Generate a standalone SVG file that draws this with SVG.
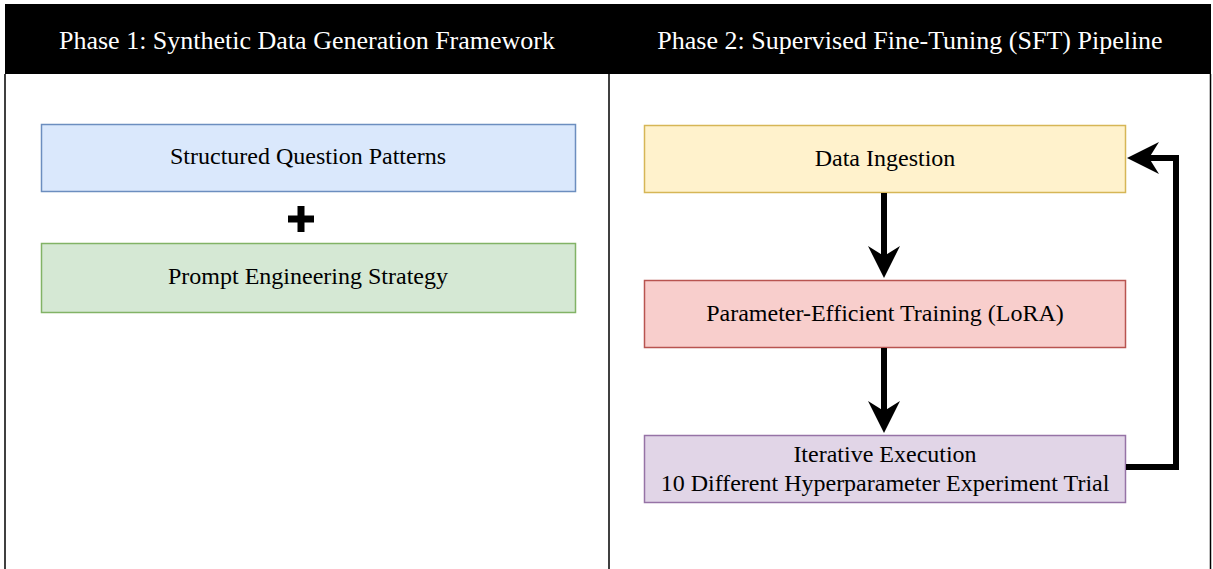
<svg xmlns="http://www.w3.org/2000/svg" width="1213" height="569" viewBox="0 0 1213 569">
<style>
.hdr{font-family:"Liberation Serif","Times New Roman",serif;font-size:26px;fill:#ffffff;text-anchor:middle}
.lbl{font-family:"Liberation Serif","Times New Roman",serif;font-size:24px;fill:#000000;text-anchor:middle}
.box{stroke-width:1.5}
.conn{fill:none;stroke:#000000;stroke-width:6}
.head{fill:#000000}
</style>
<rect x="0" y="0" width="1213" height="569" fill="#ffffff"/>
<g id="frame">
<rect x="5" y="4" width="1206" height="70" fill="#000000"/>
<line x1="5" y1="74" x2="5" y2="569" stroke="#000000" stroke-width="1.5"/>
<line x1="609" y1="74" x2="609" y2="569" stroke="#000000" stroke-width="1.5"/>
<line x1="1210.5" y1="74" x2="1210.5" y2="569" stroke="#000000" stroke-width="1.5"/>
</g>
<g id="header1"><text class="hdr" x="307" y="49">Phase 1: Synthetic Data Generation Framework</text></g>
<g id="header2"><text class="hdr" x="910" y="49">Phase 2: Supervised Fine-Tuning (SFT) Pipeline</text></g>
<g id="node-structured">
<rect class="box" x="41.5" y="124.5" width="534" height="67" fill="#dae8fc" stroke="#6c8ebf"/>
<text class="lbl" x="308" y="164">Structured Question Patterns</text>
</g>
<g id="node-plus">
<path d="M301,206 V232" stroke="#000000" stroke-width="7" fill="none"/>
<path d="M288,219 H314" stroke="#000000" stroke-width="7" fill="none"/>
</g>
<g id="node-prompt">
<rect class="box" x="41.5" y="243.5" width="534" height="69" fill="#d5e8d4" stroke="#82b366"/>
<text class="lbl" x="308" y="284">Prompt Engineering Strategy</text>
</g>
<g id="node-ingestion">
<rect class="box" x="644.5" y="125.5" width="481" height="67" fill="#fff2cc" stroke="#d6b656"/>
<text class="lbl" x="885" y="166">Data Ingestion</text>
</g>
<g id="node-training">
<rect class="box" x="644.5" y="280.5" width="481" height="67" fill="#f8cecc" stroke="#b85450"/>
<text class="lbl" x="885" y="321">Parameter-Efficient Training (LoRA)</text>
</g>
<g id="node-iterative">
<rect class="box" x="644.5" y="435.5" width="481" height="67" fill="#e1d5e7" stroke="#9673a6"/>
<text class="lbl" x="885" y="462">Iterative Execution</text>
<text class="lbl" x="885" y="491">10 Different Hyperparameter Experiment Trial</text>
</g>
<g id="connectors">
<line class="conn" x1="884" y1="193" x2="884" y2="258"/>
<path class="head" d="M884,278 L868,246 L884,256 L900,246 Z"/>
<line class="conn" x1="884" y1="348" x2="884" y2="413"/>
<path class="head" d="M884,433 L868,401 L884,411 L900,401 Z"/>
<path class="conn" d="M1126,467 H1176 V158 H1145"/>
<path class="head" d="M1127,158 L1159,142 L1149,158 L1159,174 Z"/>
</g>
</svg>
